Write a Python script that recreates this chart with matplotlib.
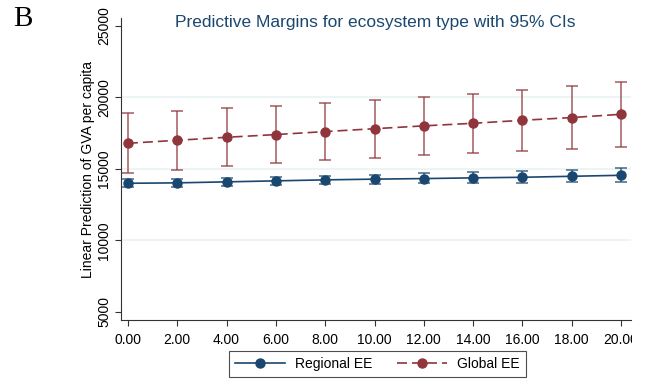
import matplotlib
matplotlib.use("Agg")
import matplotlib.pyplot as plt
from matplotlib.transforms import Bbox, TransformedBbox

x = [0, 2, 4, 6, 8, 10, 12, 14, 16, 18, 20]
xlabels = ["0.00", "2.00", "4.00", "6.00", "8.00", "10.00", "12.00", "14.00", "16.00", "18.00", "20.00"]

regional = [13990, 14020, 14090, 14160, 14230, 14280, 14320, 14370, 14410, 14480, 14550]
regional_lo = [13700, 13760, 13820, 13870, 13920, 13960, 13990, 14010, 14030, 14060, 14070]
regional_hi = [14280, 14300, 14360, 14450, 14530, 14600, 14680, 14750, 14820, 14920, 15030]

global_ = [16790, 17000, 17210, 17400, 17610, 17810, 18010, 18190, 18400, 18590, 18820]
global_lo = [14700, 14900, 15180, 15390, 15600, 15770, 15950, 16140, 16280, 16420, 16560]
global_hi = [18890, 19070, 19250, 19430, 19610, 19800, 20040, 20270, 20500, 20810, 21060]

yticks = [5000, 10000, 15000, 20000, 25000]
grid_vals = [10000, 15000, 20000]

navy = "#1a476f"
maroon = "#90353b"

plt.rcParams['font.family'] = ['Liberation Sans', 'DejaVu Sans']

fig = plt.figure(figsize=(6.45, 3.85), dpi=100)
ax = fig.add_axes([121/645, 1-320/385, (631-121)/645, (320-18)/385])

for g in grid_vals:
    ax.axhline(g, color="#eaf2f3", lw=1.2, zorder=0)

def err(v, lo, hi):
    return [[a - b for a, b in zip(v, lo)], [b - a for a, b in zip(v, hi)]]

ax.errorbar(x, regional, yerr=err(regional, regional_lo, regional_hi), fmt="none",
            ecolor=navy, elinewidth=1.2, capsize=4, capthick=1.2, alpha=0.75, zorder=2)
ax.errorbar(x, global_, yerr=err(global_, global_lo, global_hi), fmt="none",
            ecolor=maroon, elinewidth=1.2, capsize=4, capthick=1.2, alpha=0.75, zorder=2)
l1, = ax.plot(x, regional, color=navy, lw=1.2, marker="o", ms=6.5, zorder=3, label="Regional EE")
l2, = ax.plot(x, global_, color=maroon, lw=1.2, ls=(0, (6, 3)), marker="o", ms=6.5, zorder=3, label="Global EE")

ax.set_xlim(-0.28, 20.4)
ax.set_ylim(4420, 25560)
ax.set_xticks(x)
ax.set_xticklabels(xlabels, fontsize=10)
ax.set_yticks(yticks)
ax.set_yticklabels([str(v) for v in yticks], fontsize=10, rotation=90, va="center")
ax.tick_params(axis="both", direction="out", length=4, width=0.8, color="#333333", pad=3)
ax.tick_params(axis="x", pad=5)
for s in ["top", "right"]:
    ax.spines[s].set_visible(False)
for s in ["left", "bottom"]:
    ax.spines[s].set_color("#333333")
    ax.spines[s].set_linewidth(0.8)

ax.set_ylabel("Linear Prediction of GVA per capita", fontsize=10, labelpad=1.5)

clip = TransformedBbox(Bbox([[0, 0], [632/645, 1]]), fig.transFigure)
for lab in ax.get_xticklabels():
    lab.set_clip_on(True)
    lab.set_clip_box(clip)

fig.text(375/645, 1-27.5/385, "Predictive Margins for ecosystem type with 95% CIs",
         ha="center", va="baseline", fontsize=12.5, color=navy)
fig.text(13/645, 1-26/385, "B", ha="left", va="baseline", fontsize=21,
         family=["Liberation Serif", "DejaVu Serif"])

leg = fig.legend(handles=[l1, l2], loc="center", bbox_to_anchor=(377.5/645, 1-364/385),
                 ncol=2, fontsize=10, frameon=True, fancybox=False, handlelength=3.6,
                 columnspacing=1.8, borderpad=0.45, handletextpad=0.7)
leg.get_frame().set_edgecolor("#222222")
leg.get_frame().set_linewidth(0.8)

fig.savefig("out.png", dpi=100)
